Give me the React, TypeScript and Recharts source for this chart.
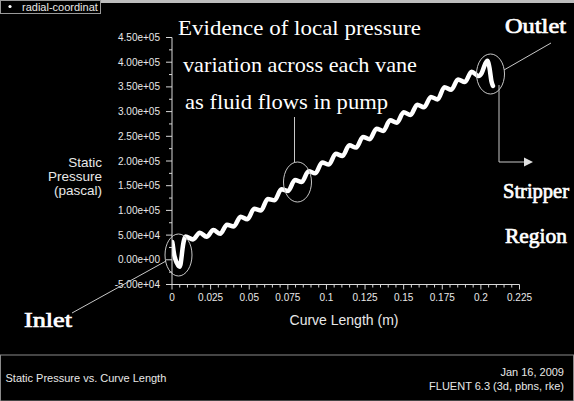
import React from 'react';
import { LineChart, Line, XAxis, YAxis } from 'recharts';

// curve length (m) along the pump passage
const curveLength = [
  0.0002, 0.0006, 0.001, 0.0015, 0.0021, 0.0028, 0.0036, 0.0044, 0.005, 0.0056,
  0.0062, 0.0068, 0.0075, 0.0082, 0.0088,
  0.0136, 0.018, 0.0224, 0.0268, 0.0312, 0.0356, 0.04, 0.0444, 0.0488, 0.0532,
  0.0576, 0.062, 0.0664, 0.0708, 0.0752, 0.0796, 0.084, 0.0884, 0.0928, 0.0972,
  0.1016, 0.106, 0.1104, 0.1148, 0.1192, 0.1236, 0.128, 0.1324, 0.1368, 0.1412,
  0.1456, 0.15, 0.1544, 0.1588, 0.1632, 0.1676, 0.172, 0.1764, 0.1808, 0.1852,
  0.1896, 0.194,
  0.1985, 0.2005, 0.2027, 0.2042, 0.2056, 0.2068, 0.2078,
];

// static pressure (pascal)
const staticPressure = [
  36000, 28000, 18000, 9000, 2000, -4000, -9000, -13000, -14000, -8000,
  6000, 22000, 36000, 44000, 47000,
  41300, 54900, 46600, 60200, 52500, 71000, 67600, 87300, 82200, 103100,
  99900, 123200, 120400, 142900, 139400, 161700, 157500, 179300, 175100, 196900,
  192700, 214500, 210300, 231800, 227200, 248600, 244100, 265500, 260900, 282400,
  277600, 298500, 293300, 314100, 308900, 329800, 324600, 349400, 344300, 365100,
  359900, 380700,
  372000, 378000, 396000, 403000, 388000, 362000, 352000,
];

const xMajorTicks = [0, 0.025, 0.05, 0.075, 0.1, 0.125, 0.15, 0.175, 0.2, 0.225];
const xTickLabels = ['0', '0.025', '0.05', '0.075', '0.1', '0.125', '0.15', '0.175', '0.2', '0.225'];

const yMajorTicks = [-50000, 0, 50000, 100000, 150000, 200000, 250000, 300000, 350000, 400000, 450000];
const yTickLabels = [
  '-5.00e+04', '0.00e+00', '5.00e+04', '1.00e+05', '1.50e+05', '2.00e+05',
  '2.50e+05', '3.00e+05', '3.50e+05', '4.00e+05', '4.50e+05',
];

const data = curveLength.map((x, i) => ({ x, p: staticPressure[i] }));

// minor ticks: 4 between x majors, 1 between y majors
const xTicks: number[] = [];
xMajorTicks.forEach((t, i) => {
  xTicks.push(t);
  if (i < xMajorTicks.length - 1) {
    const step = (xMajorTicks[i + 1] - t) / 5;
    for (let k = 1; k < 5; k++) xTicks.push(t + step * k);
  }
});
const yTicks: number[] = [];
yMajorTicks.forEach((t, i) => {
  yTicks.push(t);
  if (i < yMajorTicks.length - 1) yTicks.push((t + yMajorTicks[i + 1]) / 2);
});

const axisColor = '#d8d8d8';
const textColor = '#e8e8e8';
const sans = '"Liberation Sans", Arial, sans-serif';
const serif = '"Liberation Serif", "Times New Roman", serif';

const XTick = (props: any) => {
  const { x, y, payload } = props;
  const idx = xMajorTicks.findIndex((t) => Math.abs(t - payload.value) < 1e-9);
  const major = idx >= 0;
  return (
    <g>
      <line x1={x} x2={x} y1={y} y2={y + (major ? 5 : 3)} stroke={axisColor} />
      {major && (
        <text x={x} y={y + 16} textAnchor="middle" fill={textColor} fontSize={10} fontFamily={sans}>
          {xTickLabels[idx]}
        </text>
      )}
    </g>
  );
};

const YTick = (props: any) => {
  const { x, y, payload } = props;
  const idx = yMajorTicks.findIndex((t) => Math.abs(t - payload.value) < 1e-6);
  const major = idx >= 0;
  return (
    <g>
      <line x1={x - (major ? 6 : 3)} x2={x} y1={y} y2={y} stroke={axisColor} />
      {major && (
        <text x={x - 12} y={y} dy="0.35em" textAnchor="end" fill={textColor} fontSize={10} fontFamily={sans}>
          {yTickLabels[idx]}
        </text>
      )}
    </g>
  );
};

const Overlay = () => (
  <svg width={574} height={401} style={{ position: 'absolute', left: 0, top: 0, pointerEvents: 'none' }}>
    {/* header strip + legend */}
    <rect x={0} y={0} width={574} height={3} fill="#bdbdbd" />
    <rect x={0.5} y={0.5} width={100} height={13} fill="#000" stroke="#9a9a9a" />
    <circle cx={10} cy={6.5} r={1.6} fill="#fff" />
    <text x={22} y={11} fill={textColor} fontSize={11} fontFamily={sans}>radial-coordinat</text>

    {/* axis titles */}
    <g fill={textColor} fontSize={13.5} fontFamily={sans} textAnchor="end">
      <text x={102} y={166.5}>Static</text>
      <text x={102} y={180.5}>Pressure</text>
      <text x={102} y={194.5}>(pascal)</text>
    </g>
    <text x={344} y={325} fill={textColor} fontSize={14} fontFamily={sans} textAnchor="middle">
      Curve Length (m)
    </text>

    {/* annotations */}
    <g fill="#fff" fontFamily={serif} fontSize={22}>
      <text x={178} y={35} textLength={243} lengthAdjust="spacingAndGlyphs">Evidence of local pressure</text>
      <text x={183} y={72} textLength={234} lengthAdjust="spacingAndGlyphs">variation across each vane</text>
      <text x={185} y={109} textLength={203} lengthAdjust="spacingAndGlyphs">as fluid flows in pump</text>
    </g>
    <g fill="#fff" stroke="#fff" strokeWidth={0.7} fontFamily={serif} fontSize={21}>
      <text x={505} y={33} textLength={61} lengthAdjust="spacingAndGlyphs">Outlet</text>
      <text x={503} y={198} textLength={66} lengthAdjust="spacingAndGlyphs">Stripper</text>
      <text x={505} y={243} textLength={62} lengthAdjust="spacingAndGlyphs">Region</text>
      <text x={24} y={327} textLength={48} lengthAdjust="spacingAndGlyphs">Inlet</text>
    </g>
    <g fill="none" stroke="#c8c8c8" strokeWidth={1}>
      <ellipse cx={178.5} cy={255} rx={13.5} ry={21} />
      <ellipse cx={297.5} cy={182} rx={14} ry={20} />
      <ellipse cx={490.5} cy={74} rx={14} ry={20} />
      <line x1={72} y1={313} x2={166} y2={261} />
      <line x1={294.5} y1={117} x2={294.5} y2={162.5} />
      <line x1={504} y1={70} x2={551} y2={43} />
      <polyline points="499,85 499,162 526,162" />
    </g>
    <polygon points="524,157.5 533,162 524,166.5" fill="#e0e0e0" />

    {/* footer */}
    <rect x={0.5} y={355} width={573} height={46} fill="none" stroke="#8a8a8a" />
    <g fill={textColor} fontSize={11} fontFamily={sans}>
      <text x={5.5} y={382}>Static Pressure vs. Curve Length</text>
      <text x={564} y={376} textAnchor="end">Jan 16, 2009</text>
      <text x={564} y={390} textAnchor="end">FLUENT 6.3 (3d, pbns, rke)</text>
    </g>
  </svg>
);

export default function App() {
  return (
    <div style={{ position: 'absolute', left: 0, top: 0, width: 574, height: 401, background: '#000', overflow: 'hidden' }}>
      <LineChart
        width={574}
        height={401}
        data={data}
        margin={{ top: 37.5, right: 54.5, bottom: 86.5, left: 112 }}
      >
        <XAxis
          dataKey="x"
          type="number"
          domain={[0, 0.225]}
          ticks={xTicks}
          interval={0}
          height={30}
          tickSize={0}
          tickMargin={0}
          tickLine={false}
          axisLine={{ stroke: axisColor }}
          tick={<XTick />}
          allowDataOverflow
        />
        <YAxis
          type="number"
          domain={[-50000, 450000]}
          ticks={yTicks}
          interval={0}
          width={60}
          tickSize={0}
          tickMargin={0}
          tickLine={false}
          axisLine={{ stroke: axisColor }}
          tick={<YTick />}
          allowDataOverflow
        />
        <Line
          dataKey="p"
          type="monotone"
          stroke="#ffffff"
          strokeWidth={4.5}
          strokeLinejoin="round"
          strokeLinecap="round"
          dot={false}
          isAnimationActive={false}
        />
      </LineChart>
      <Overlay />
    </div>
  );
}
